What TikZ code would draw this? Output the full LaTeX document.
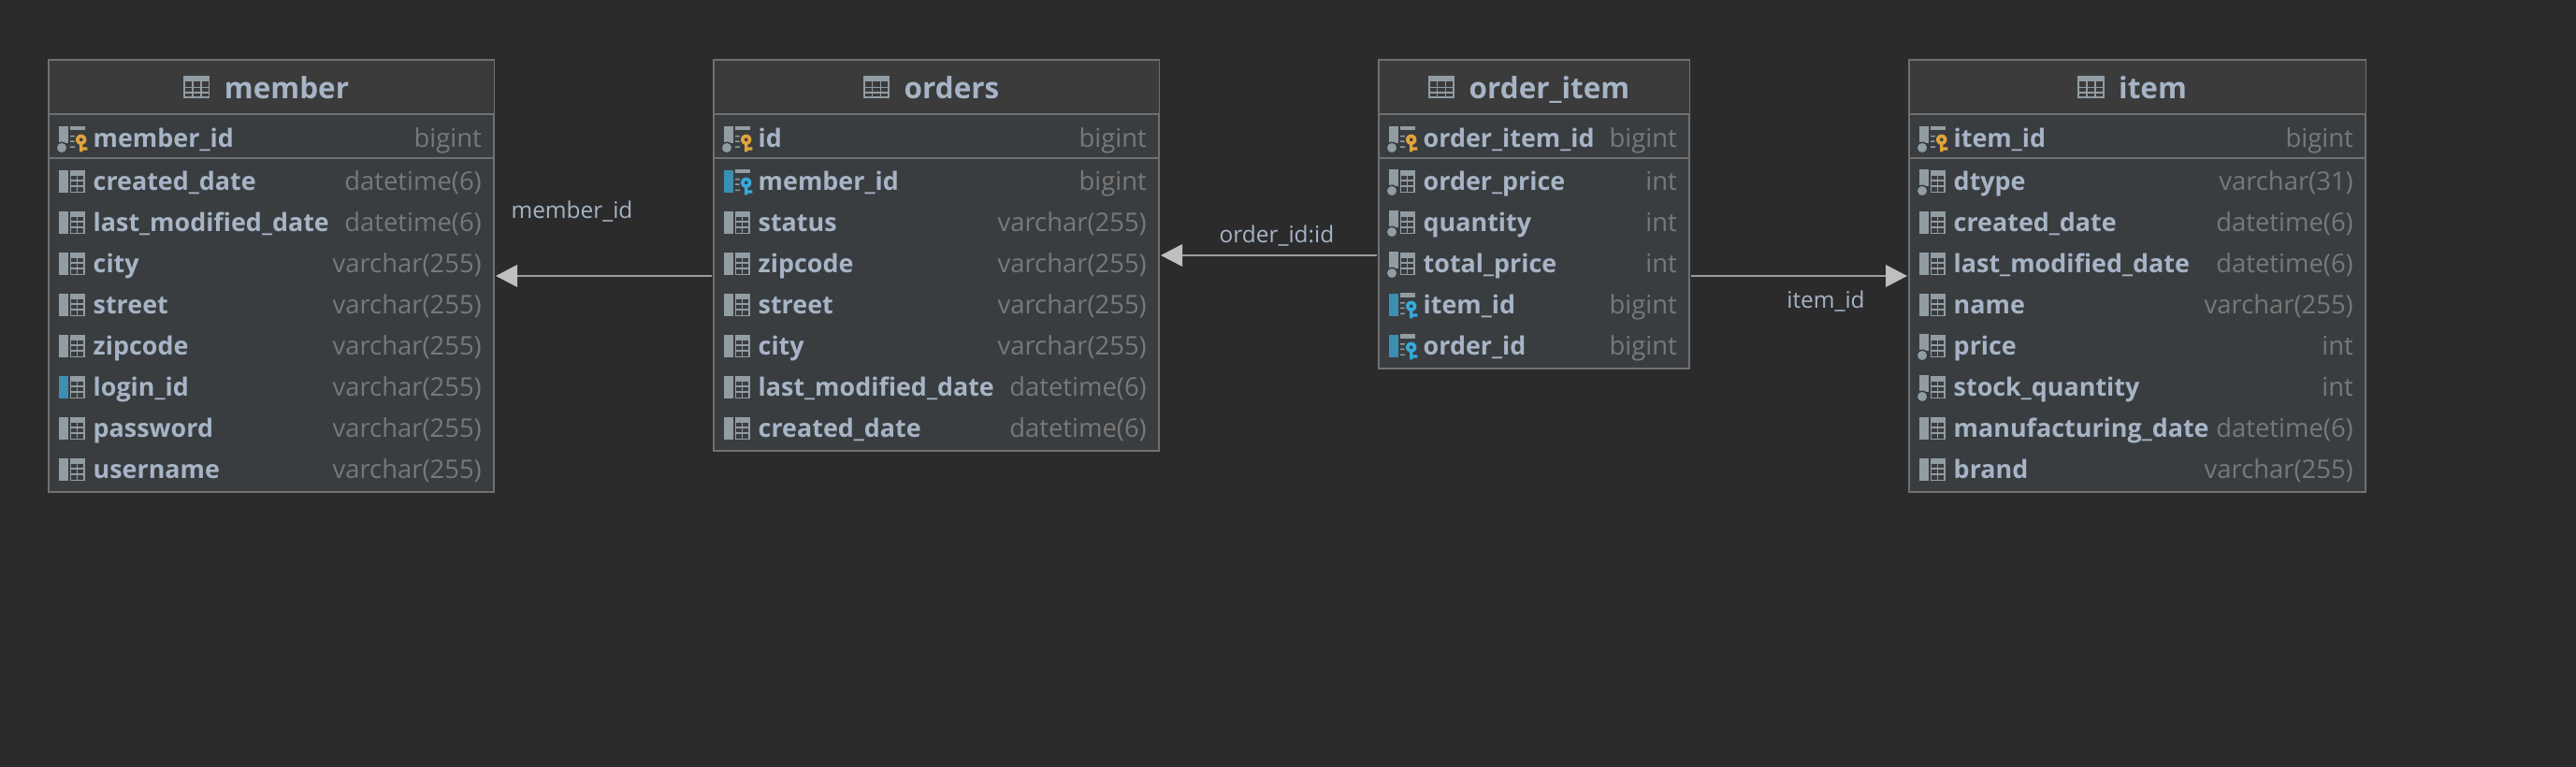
\documentclass[tikz,border=0pt]{standalone}
\usepackage{fontspec}
\setmainfont{Open Sans}
\usepackage{xcolor}
\usepackage{tikz}
\usetikzlibrary{arrows.meta, positioning}
\definecolor{fondo}{HTML}{2B2B2B}
\definecolor{cuerpo}{HTML}{3A3D40}
\definecolor{cabeza}{HTML}{3B3B3B}
\definecolor{borde}{HTML}{707070}
\definecolor{textop}{HTML}{A6B4C6}
\definecolor{textot}{HTML}{787878}
\definecolor{gris}{HTML}{919CA3}
\definecolor{azulb}{HTML}{3A8FB2}
\definecolor{azull}{HTML}{35A9DC}
\definecolor{oro}{HTML}{DFA43C}
\definecolor{linea}{HTML}{9C9C9C}
\definecolor{punta}{HTML}{BFBFBF}

\newcommand{\rejilla}{%
  \draw[gris, line width=.017cm] (.125,-.115) rectangle (.27,.115);
  \fill[gris] (.12,.12) rectangle (.28,.06);
  \draw[gris, line width=.017cm] (.125,.013) -- (.27,.013) (.125,-.053) -- (.27,-.053) (.195,.06) -- (.195,-.115);}
\newcommand{\rayas}{%
  \fill[gris] (.12,.13) rectangle (.28,.085);
  \fill[gris] (.12,.03) rectangle (.17,.015) (.12,-.025) rectangle (.17,-.04) (.12,-.085) rectangle (.17,-.1);}
\newcommand{\llave}[1]{%
  \fill[cuerpo] (.237,-.013) circle (.075);
  \fill[#1, even odd rule] (.237,-.013) circle (.057) (.237,-.013) circle (.02);
  \fill[#1] (.22,-.05) rectangle (.253,-.143) (.25,-.093) rectangle (.303,-.127);}
\newcommand{\punto}{%
  \fill[cuerpo] (.03,-.10) circle (.065);
  \fill[gris] (.03,-.10) circle (.05);}

\tikzset{
  pics/campo/.style={code={\fill[gris] (0,-.12) rectangle (.10,.12); \rejilla}},
  pics/camponn/.style={code={\fill[gris] (0,-.05) rectangle (.10,.13); \punto \rejilla}},
  pics/campoin/.style={code={\fill[azulb] (0,-.12) rectangle (.10,.12); \rejilla}},
  pics/campopk/.style={code={\fill[gris] (0,-.05) rectangle (.10,.13); \punto \rayas \llave{oro}}},
  pics/campofk/.style={code={\fill[azulb] (0,-.12) rectangle (.10,.12); \rayas \llave{azull}}},
  pics/tablaico/.style={code={
    \draw[gris, line width=.017cm] (.007,.007) rectangle (.273,.223);
    \fill[gris] (0,.23) rectangle (.28,.17);
    \draw[gris, line width=.017cm] (.007,.11) -- (.273,.11) (.007,.055) -- (.273,.055) (.095,.17) -- (.095,.007) (.185,.17) -- (.185,.007);}}
}

\newcommand{\cabecera}[2]{%
  \fill[cabeza] ([shift={(.01,-.01)}]#1.north west) rectangle ([yshift=-.58cm]#1.north east);
  \draw[separa] ([yshift=-.58cm]#1.north west) -- ([yshift=-.58cm]#1.north east);
  \draw[separa] ([yshift=-1.05cm]#1.north west) -- ([yshift=-1.05cm]#1.north east);
  \node (#1titulo) [titulo] at ([shift={(.165,-.413)}]#1.north) {#2};
  \pic at ([shift={(-.43,.008)}]#1titulo.base west) {tablaico};}

\newcommand{\fila}[5]{%
  \pgfmathsetmacro{\filay}{#2==0 ? .84 : .86+.44*#2}
  \pic at ([shift={(.11,-\filay)}]#1.north west) {#3};
  \node (#1n#2) [nombre] at ([shift={(.47,-\filay-.093)}]#1.north west) {#4};
  \node (#1t#2) [tipo] at ([shift={(-.125,-\filay-.093)}]#1.north east) {#5};}

\begin{document}
\begin{tikzpicture}[
    node distance=2.35cm,
    tabla/.style={rectangle, draw=borde, line width=.02cm, fill=cuerpo, outer sep=0pt, inner sep=0pt},
    separa/.style={draw=borde, line width=.02cm},
    titulo/.style={anchor=base, inner sep=0pt, text=textop, font=\fontsize{8.95pt}{10pt}\selectfont\bfseries},
    nombre/.style={anchor=base west, inner sep=0pt, text=textop, font=\fontsize{7.65pt}{9pt}\selectfont\bfseries},
    tipo/.style={anchor=base east, inner sep=0pt, text=textot, font=\fontsize{7.8pt}{9pt}\selectfont},
    etiqueta/.style={inner sep=0pt, text=textop, font=\fontsize{6.95pt}{8pt}\selectfont},
    flecha/.style={-{Triangle[length=.23cm, width=.235cm, color=punta]}, line width=.02cm, linea, shorten >=.02cm, shorten <=.02cm}
]

\fill[fondo] (0,0) rectangle (27.54,-8.2);

\node (member) [tabla, minimum width=4.76cm, minimum height=4.62cm, anchor=north west] at (.52,-.64) {};
\node (orders) [tabla, minimum width=4.76cm, minimum height=4.18cm, right=of member.north east, anchor=north west] {};
\node (orderitem) [tabla, minimum width=3.32cm, minimum height=3.30cm, right=of orders.north east, anchor=north west] {};
\node (item) [tabla, minimum width=4.88cm, minimum height=4.62cm, right=of orderitem.north east, anchor=north west] {};

\cabecera{member}{member}
\fila{member}{0}{campopk}{member\_id}{bigint}
\fila{member}{1}{campo}{created\_date}{datetime(6)}
\fila{member}{2}{campo}{last\_modified\_date}{datetime(6)}
\fila{member}{3}{campo}{city}{varchar(255)}
\fila{member}{4}{campo}{street}{varchar(255)}
\fila{member}{5}{campo}{zipcode}{varchar(255)}
\fila{member}{6}{campoin}{login\_id}{varchar(255)}
\fila{member}{7}{campo}{password}{varchar(255)}
\fila{member}{8}{campo}{username}{varchar(255)}

\cabecera{orders}{orders}
\fila{orders}{0}{campopk}{id}{bigint}
\fila{orders}{1}{campofk}{member\_id}{bigint}
\fila{orders}{2}{campo}{status}{varchar(255)}
\fila{orders}{3}{campo}{zipcode}{varchar(255)}
\fila{orders}{4}{campo}{street}{varchar(255)}
\fila{orders}{5}{campo}{city}{varchar(255)}
\fila{orders}{6}{campo}{last\_modified\_date}{datetime(6)}
\fila{orders}{7}{campo}{created\_date}{datetime(6)}

\cabecera{orderitem}{order\_item}
\fila{orderitem}{0}{campopk}{order\_item\_id}{bigint}
\fila{orderitem}{1}{camponn}{order\_price}{int}
\fila{orderitem}{2}{camponn}{quantity}{int}
\fila{orderitem}{3}{camponn}{total\_price}{int}
\fila{orderitem}{4}{campofk}{item\_id}{bigint}
\fila{orderitem}{5}{campofk}{order\_id}{bigint}

\cabecera{item}{item}
\fila{item}{0}{campopk}{item\_id}{bigint}
\fila{item}{1}{camponn}{dtype}{varchar(31)}
\fila{item}{2}{campo}{created\_date}{datetime(6)}
\fila{item}{3}{campo}{last\_modified\_date}{datetime(6)}
\fila{item}{4}{campo}{name}{varchar(255)}
\fila{item}{5}{camponn}{price}{int}
\fila{item}{6}{camponn}{stock\_quantity}{int}
\fila{item}{7}{campo}{manufacturing\_date}{datetime(6)}
\fila{item}{8}{campo}{brand}{varchar(255)}

\draw [flecha] (orders.west |- member.east) -- (member.east);
\draw [flecha] (orderitem.west |- orders.east) -- (orders.east);
\draw [flecha] (orderitem.east |- item.west) -- (item.west);

\node (etqmember) [etiqueta] at (6.115,-2.26) {member\_id};
\node (etqorder) [etiqueta] at (13.65,-2.52) {order\_id:id};
\node (etqitem) [etiqueta] at (19.52,-3.22) {item\_id};

\end{tikzpicture}
\end{document}
